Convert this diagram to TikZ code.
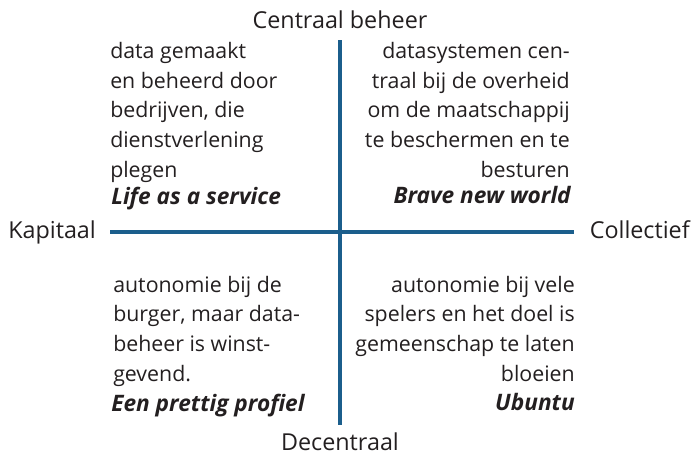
\documentclass[tikz,border=0pt]{standalone}
\usepackage{fontspec}
\setmainfont{Open Sans}
\usetikzlibrary{positioning}
\definecolor{axisblue}{RGB}{27, 94, 140}
\definecolor{inkgray}{RGB}{35, 31, 32}
\tikzset{
  axislabel/.style={font=\fontsize{17.5}{22.2}\selectfont, text=inkgray, inner sep=0pt},
  quadtext/.style={font=\fontsize{16}{22.2}\selectfont, text=inkgray, inner sep=0pt},
  quadtitle/.style={font=\fontsize{17}{22.2}\selectfont\bfseries\itshape, text=inkgray, inner sep=0pt},
  axisline/.style={draw=axisblue, line width=3pt},
}

\begin{document}
\begin{tikzpicture}[x=0.75pt, y=-0.75pt]
  \useasboundingbox (0,0) rectangle (694,455);

  % Axes
  \coordinate (north) at (340,40);
  \coordinate (south) at (340,425);
  \coordinate (west) at (110,232);
  \coordinate (east) at (574,232);
  \draw[axisline] (north) -- (south);
  \draw[axisline] (west) -- (east);

  % Axis labels
  \node[axislabel, anchor=base] (centraal) at (340,28) {Centraal beheer};
  \node[axislabel, anchor=base] (decentraal) at (340,450) {Decentraal};
  \node[axislabel, anchor=base west] (kapitaal) at (8,238) {Kapitaal};
  \node[axislabel, anchor=base east] (collectief) at (690,238) {Collectief};

  % Top left (base = last line)
  \node[quadtext, anchor=base west, align=left] (lifetext) at (110,177) {
    data gemaakt\\en beheerd door\\bedrijven, die\\dienstverlening\\plegen
  };
  \node[quadtitle, anchor=base west] (life) at (111,204) {Life as a service};

  % Top right
  \node[quadtext, anchor=base east, align=right] (bravetext) at (570,177) {
    datasystemen cen-\\traal bij de overheid\\om de maatschappij\\te beschermen en te\\besturen
  };
  \node[quadtitle, anchor=base east] (brave) at (571,203) {Brave new world};

  % Bottom left
  \node[quadtext, anchor=base west, align=left] (profieltext) at (113,381) {
    autonomie bij de\\burger, maar data-\\beheer is winst-\\gevend.
  };
  \node[quadtitle, anchor=base west] (profiel) at (111,411) {Een prettig profiel};

  % Bottom right
  \node[quadtext, anchor=base east, align=right] (ubuntutext) at (575,381) {
    autonomie bij vele\\spelers en het doel is\\gemeenschap te laten\\bloeien
  };
  \node[quadtitle, anchor=base east] (ubuntu) at (575,410) {Ubuntu};
\end{tikzpicture}
\end{document}
